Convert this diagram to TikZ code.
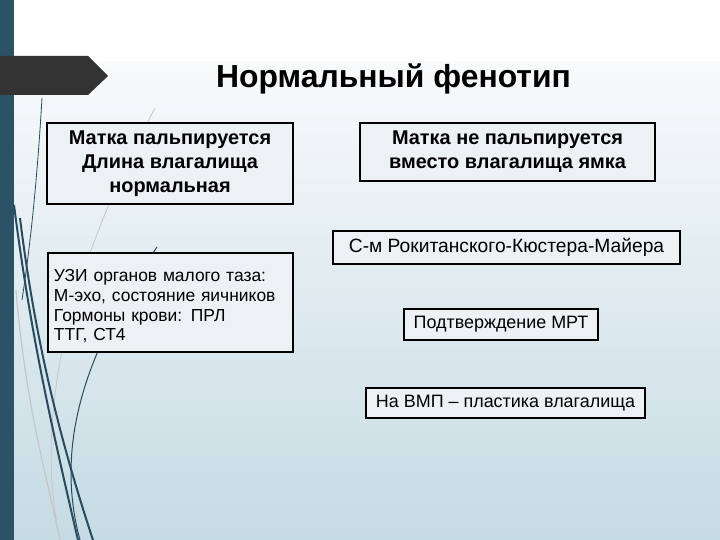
\documentclass[tikz,border=0pt]{standalone}
\usepackage{fontspec}
\setmainfont{Liberation Sans}
\usepackage{tikz}
\definecolor{SlideStrip}{RGB}{44,82,102}
\definecolor{SlideArrow}{RGB}{51,51,51}
\definecolor{SlideBgTop}{RGB}{248,250,251}
\definecolor{SlideBgBot}{RGB}{197,219,227}
\definecolor{SlideBox}{RGB}{236,241,244}
\definecolor{SlideCurve}{RGB}{40,75,95}
\begin{document}
\begin{tikzpicture}[x=1bp,y=-1bp,box/.style n args={2}{draw=black,line width=2.4bp,fill=SlideBox,minimum width=#1bp,minimum height=#2bp,inner sep=0pt,rectangle},btxt/.style={font=\fontsize{20}{24}\selectfont\bfseries,align=center},rtxt/.style={font=\fontsize{18}{21}\selectfont}]
\useasboundingbox (0,0) rectangle (720,540);
\fill[white] (0,0) rectangle (720,62);
\shade[top color=SlideBgTop,bottom color=SlideBgBot] (0,62) rectangle (720,540);
\fill[SlideStrip] (0,0) rectangle (14,540);
\draw[gray!45,line width=0.8bp] (155,108) .. controls (80,250) and (30,400) .. (60,540);
\draw[gray!45,line width=1.2bp] (16,290) .. controls (25,400) and (45,470) .. (60,540);
\draw[SlideCurve,line width=0.8bp] (42,98) .. controls (36,200) and (28,260) .. (22,300);
\draw[SlideCurve,line width=2bp] (14,205) .. controls (30,330) and (50,420) .. (78,540);
\draw[SlideCurve,line width=2bp] (20,218) .. controls (35,340) and (60,440) .. (93,540);
\draw[SlideCurve,line width=1bp] (157,247) .. controls (100,330) and (50,430) .. (80,540);
\fill[SlideArrow] (0,56) -- (88,56) -- (108,76) -- (88,95) -- (0,95) -- cycle;
\node[font=\fontsize{32}{36}\selectfont\bfseries] (title) at (393.5,79) {Нормальный фенотип};
\node[box={246}{81},btxt] (palp) at (170,163.5) {Матка пальпируется\\Длина влагалища\\нормальная};
\node[box={295}{58},btxt] (nepalp) at (507.5,152) {Матка не пальпируется\\вместо влагалища ямка};
\node[box={347}{33},rtxt,font=\fontsize{19.3}{22}\selectfont] (rkm) at (506.5,247.5) {С-м Рокитанского-Кюстера-Майера};
\node[box={245}{99},rtxt,font=\fontsize{17.5}{19.8}\selectfont,align=left,text width=233bp] (uzi) at (170.5,302.5) {\rule{0pt}{20bp}УЗИ органов малого таза:\\М-эхо, состояние яичников\\Гормоны крови: ПРЛ\\ТТГ, СТ4};
\node[box={194}{31},rtxt] (mrt) at (501,324.5) {Подтверждение МРТ};
\node[box={279}{30},rtxt] (vmp) at (505.5,403) {На ВМП -- пластика влагалища};
\end{tikzpicture}
\end{document}
